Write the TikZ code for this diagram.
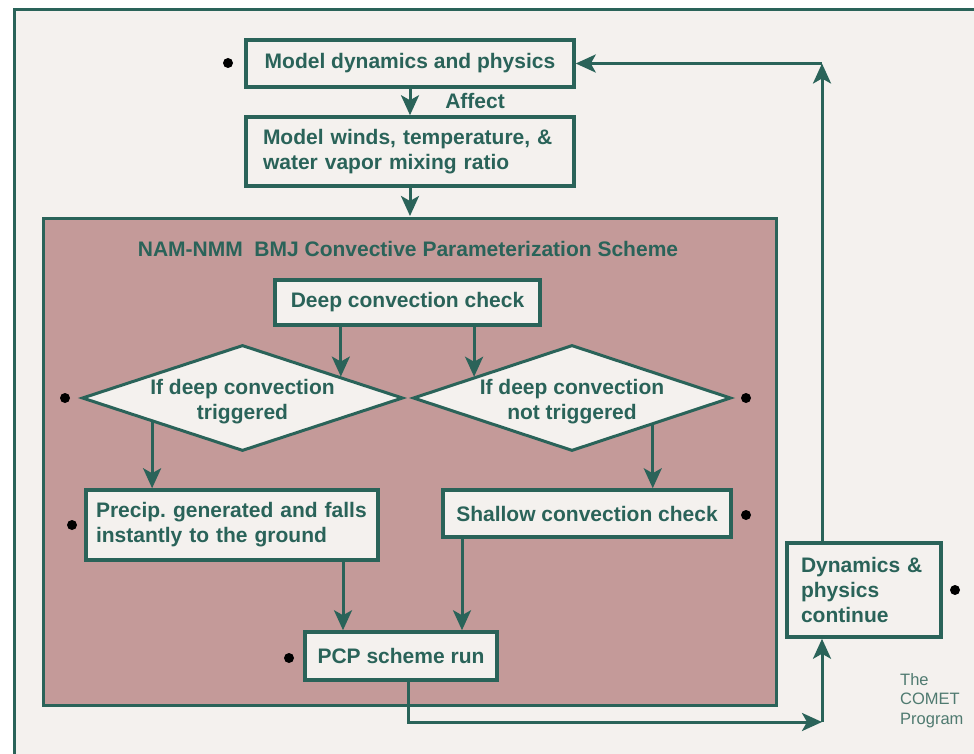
\documentclass[tikz,border=0pt]{standalone}
\usepackage{fontspec}
\setmainfont{Liberation Sans}
\usetikzlibrary{arrows.meta,shapes.geometric,calc}
\definecolor{comet}{HTML}{2A6359}
\definecolor{cometlight}{HTML}{4F7A70}
\definecolor{boxbg}{HTML}{F4F1EE}
\definecolor{pinkbg}{HTML}{C49A99}
\frenchspacing
\begin{document}
\begin{tikzpicture}[x=1pt,y=-1pt,
  box/.style={draw=comet, line width=3.5pt, fill=boxbg, text=comet,
    font=\bfseries\fontsize{21}{25}\selectfont, inner sep=0pt},
  lbox/.style={box, align=left},
  dia/.style={draw=comet, line width=3pt, fill=boxbg, shape=diamond,
    inner sep=0pt, shape aspect=3},
  dtext/.style={text=comet, font=\bfseries\fontsize{21}{25}\selectfont, align=center, inner sep=0pt},
  arr/.style={draw=comet, line width=3pt, line join=miter,
    -{Stealth[length=20pt,width=18pt,inset=5pt]}},
  dot/.style={circle, fill=black, minimum size=10pt, inner sep=0pt},
  lbl/.style={text=comet, font=\bfseries\fontsize{21}{25}\selectfont, inner sep=0pt}
]
\clip (0,0) rectangle (974,754);
\fill[white] (0,0) rectangle (974,754);
\draw[draw=comet, line width=3pt, fill=boxbg] (14,10) rectangle (1010,800);

% NAM-NMM container
\draw[draw=comet, line width=3pt, fill=pinkbg] (43,218) rectangle (776,705);
\node[lbl] (title) at (408,249) {NAM-NMM\ \ BMJ Convective Parameterization Scheme};

% top boxes
\node[box, minimum width=328pt, minimum height=47pt] (md) at (410,63.5) {Model dynamics and physics};
\node[lbl] (affect) at (475,101) {Affect};
\node[lbox, minimum width=328pt, minimum height=69pt, text width=294pt] (mw) at (410,151.5)
  {Model winds, temperature, \&\\water vapor mixing ratio};

% inner boxes
\node[box, minimum width=265pt, minimum height=45pt] (dcc) at (407.5,302.5) {Deep convection check};
\node[dia, minimum width=321pt, minimum height=106pt] (d1) at (242.5,398) {};
\node[dtext] (d1t) at ([yshift=-4pt]d1.center) {If deep convection\\triggered};
\node[dia, minimum width=318pt, minimum height=106pt] (d2) at (572,398) {};
\node[dtext] (d2t) at ([yshift=-4pt]d2.center) {If deep convection\\not triggered};
\node[lbox, minimum width=292pt, minimum height=70pt, text width=272pt] (pr) at (232,525)
  {Precip. generated and falls\\instantly to the ground};
\node[box, minimum width=288pt, minimum height=47pt] (sh) at (587,513.5) {Shallow convection check};
\node[box, minimum width=192pt, minimum height=48pt] (pcp) at (401,656) {PCP scheme run};
\node[lbox, minimum width=154pt, minimum height=94pt, text width=126pt] (dyn) at (864,590)
  {Dynamics \&\\physics\\continue};

\node[text=cometlight, font=\fontsize{16.5}{19.5}\selectfont, align=left, anchor=north west, inner sep=0pt]
  (comet) at (900,673) {The\\COMET\\Program};

% dots
\node[dot] (p1) at (228,63) {};
\node[dot] (p2) at (65,398) {};
\node[dot] (p3) at (72,525) {};
\node[dot] (p4) at (746,398) {};
\node[dot] (p5) at (746,515) {};
\node[dot] (p6) at (289,658) {};
\node[dot] (p7) at (955,590) {};

% connector points
\coordinate (d1in) at ($(d1.north)!0.607!(d1.east)$);
\coordinate (d2in) at ($(d2.north)!0.61!(d2.west)$);
\coordinate (d1out) at ($(d1.south)!0.558!(d1.west)$);
\coordinate (d2out) at ($(d2.south)!0.503!(d2.east)$);
\coordinate (c1) at (408,722);
\coordinate (c2) at (822,722);
\coordinate (c3) at (822,63.5);
\coordinate (xa) at (343,0);
\coordinate (xb) at (462,0);
\coordinate (pk) at (0,216);

% connectors
\draw[arr] (md.south -| mw.north) -- (mw.north);
\draw[arr] (mw.south) -- (mw.south |- pk);
\draw[arr] (dcc.south -| d1in) -- (d1in);
\draw[arr] (dcc.south -| d2in) -- (d2in);
\draw[arr] (d1out) -- (d1out |- pr.north);
\draw[arr] (d2out) -- (d2out |- sh.north);
\draw[arr] (pr.south -| xa) -- (pcp.north -| xa);
\draw[arr] (sh.south -| xb) -- (pcp.north -| xb);
\draw[arr] (pcp.south -| c1) -- (c1) -- (c2);
\draw[arr] (c2) -- (dyn.south -| c2);
\draw[arr] (dyn.north -| c2) -- (c3);
\draw[arr] (c3) -- (md.east);
\end{tikzpicture}
\end{document}
